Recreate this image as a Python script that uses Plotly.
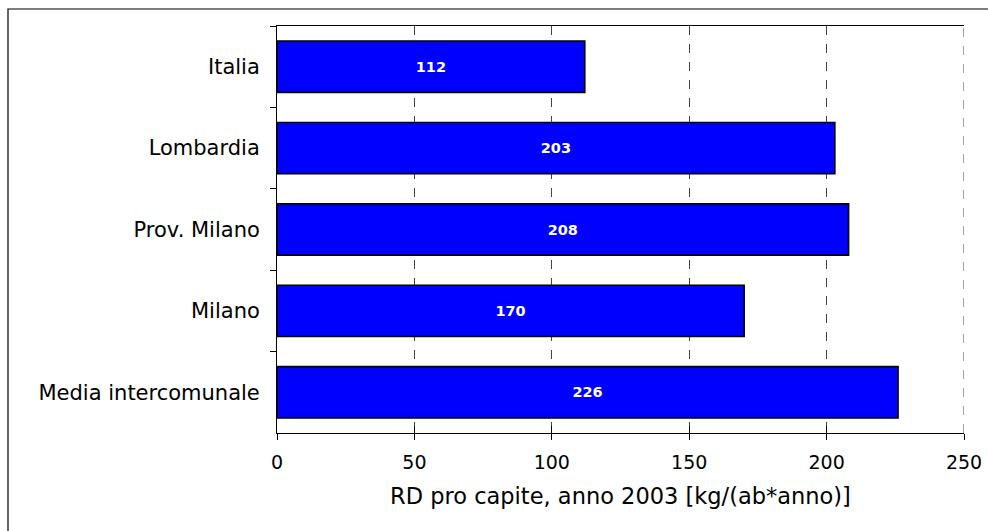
import plotly.graph_objects as go

# Raccolta differenziata pro capite, anno 2003
categories = ["Italia", "Lombardia", "Prov. Milano", "Milano", "Media intercomunale"]
values = [112, 203, 208, 170, 226]
x_ticks = [0, 50, 100, 150, 200, 250]

FONT = "DejaVu Sans, Verdana, sans-serif"
W, H = 988, 531
ML, MR, MT, MB = 277, 24, 26, 98
PW, PH = W - ML - MR, H - MT - MB

fig = go.Figure()
fig.add_trace(go.Bar(
    x=values,
    y=categories,
    orientation="h",
    marker=dict(color="#0000FF", line=dict(color="#000000", width=1.6)),
    text=values,
    texttemplate="%{x}",
    textposition="inside",
    insidetextanchor="middle",
    textfont=dict(family=FONT, size=14.5, color="#FFFFFF", weight="bold"),
    hoverinfo="skip",
))
# invisible helper trace so the inner tick marks of the x axis get drawn
fig.add_trace(go.Bar(x=[None], y=[None], xaxis="x2", showlegend=False, hoverinfo="skip"))

grid_color = "#444444"

fig.update_layout(
    width=W, height=H,
    margin=dict(l=ML, r=MR, t=MT, b=MB, pad=0, autoexpand=False),
    paper_bgcolor="white", plot_bgcolor="white",
    showlegend=False,
    bargap=0.37,
    font=dict(family=FONT, color="#000000"),
    xaxis=dict(
        range=[x_ticks[0], x_ticks[-1]],
        tickvals=x_ticks,
        ticks="outside", ticklen=6, tickcolor="#000000", tickwidth=1,
        tickfont=dict(size=19, color="#000000"),
        ticklabelstandoff=6,
        showline=True, linecolor="#000000", linewidth=1, mirror=True,
        showgrid=True, gridcolor=grid_color, gridwidth=1, griddash="dash",
        zeroline=False, automargin=False,
        title=dict(text="RD pro capite, anno 2003 [kg/(ab*anno)]",
                   font=dict(size=22.5, color="#000000"), standoff=16),
        fixedrange=True,
    ),
    xaxis2=dict(
        overlaying="x", matches="x", side="bottom",
        range=[x_ticks[0], x_ticks[-1]], tickvals=x_ticks,
        ticks="inside", ticklen=7, tickcolor="#000000", tickwidth=1,
        showticklabels=False, showgrid=False, showline=False, zeroline=False,
        automargin=False,
    ),
    yaxis=dict(
        autorange="reversed",
        ticks="outside", tickson="boundaries", ticklen=6,
        tickcolor="#000000", tickwidth=1,
        tickfont=dict(size=21, color="#000000"),
        ticklabelstandoff=12,
        showline=True, linecolor="#000000", linewidth=1,
        showgrid=False, zeroline=False, automargin=False,
        fixedrange=True,
    ),
    shapes=[
        # outer frame of the chart
        dict(
            type="rect", xref="paper", yref="paper",
            x0=(8 - ML) / PW, x1=(W + 10 - ML) / PW,
            y0=-(H + 10 - (H - MB)) / PH, y1=1 + (MT - 9) / PH,
            line=dict(color="#000000", width=1.2),
            fillcolor="rgba(0,0,0,0)", layer="below",
        ),
        # dashed grid line at the last tick (right edge of the plot area)
        dict(
            type="line", xref="x", yref="paper",
            x0=x_ticks[-1], x1=x_ticks[-1], y0=0, y1=1,
            line=dict(color=grid_color, width=1, dash="dash"),
            layer="below",
        ),
    ],
)

fig.write_html("out.html", config={"displayModeBar": False})
